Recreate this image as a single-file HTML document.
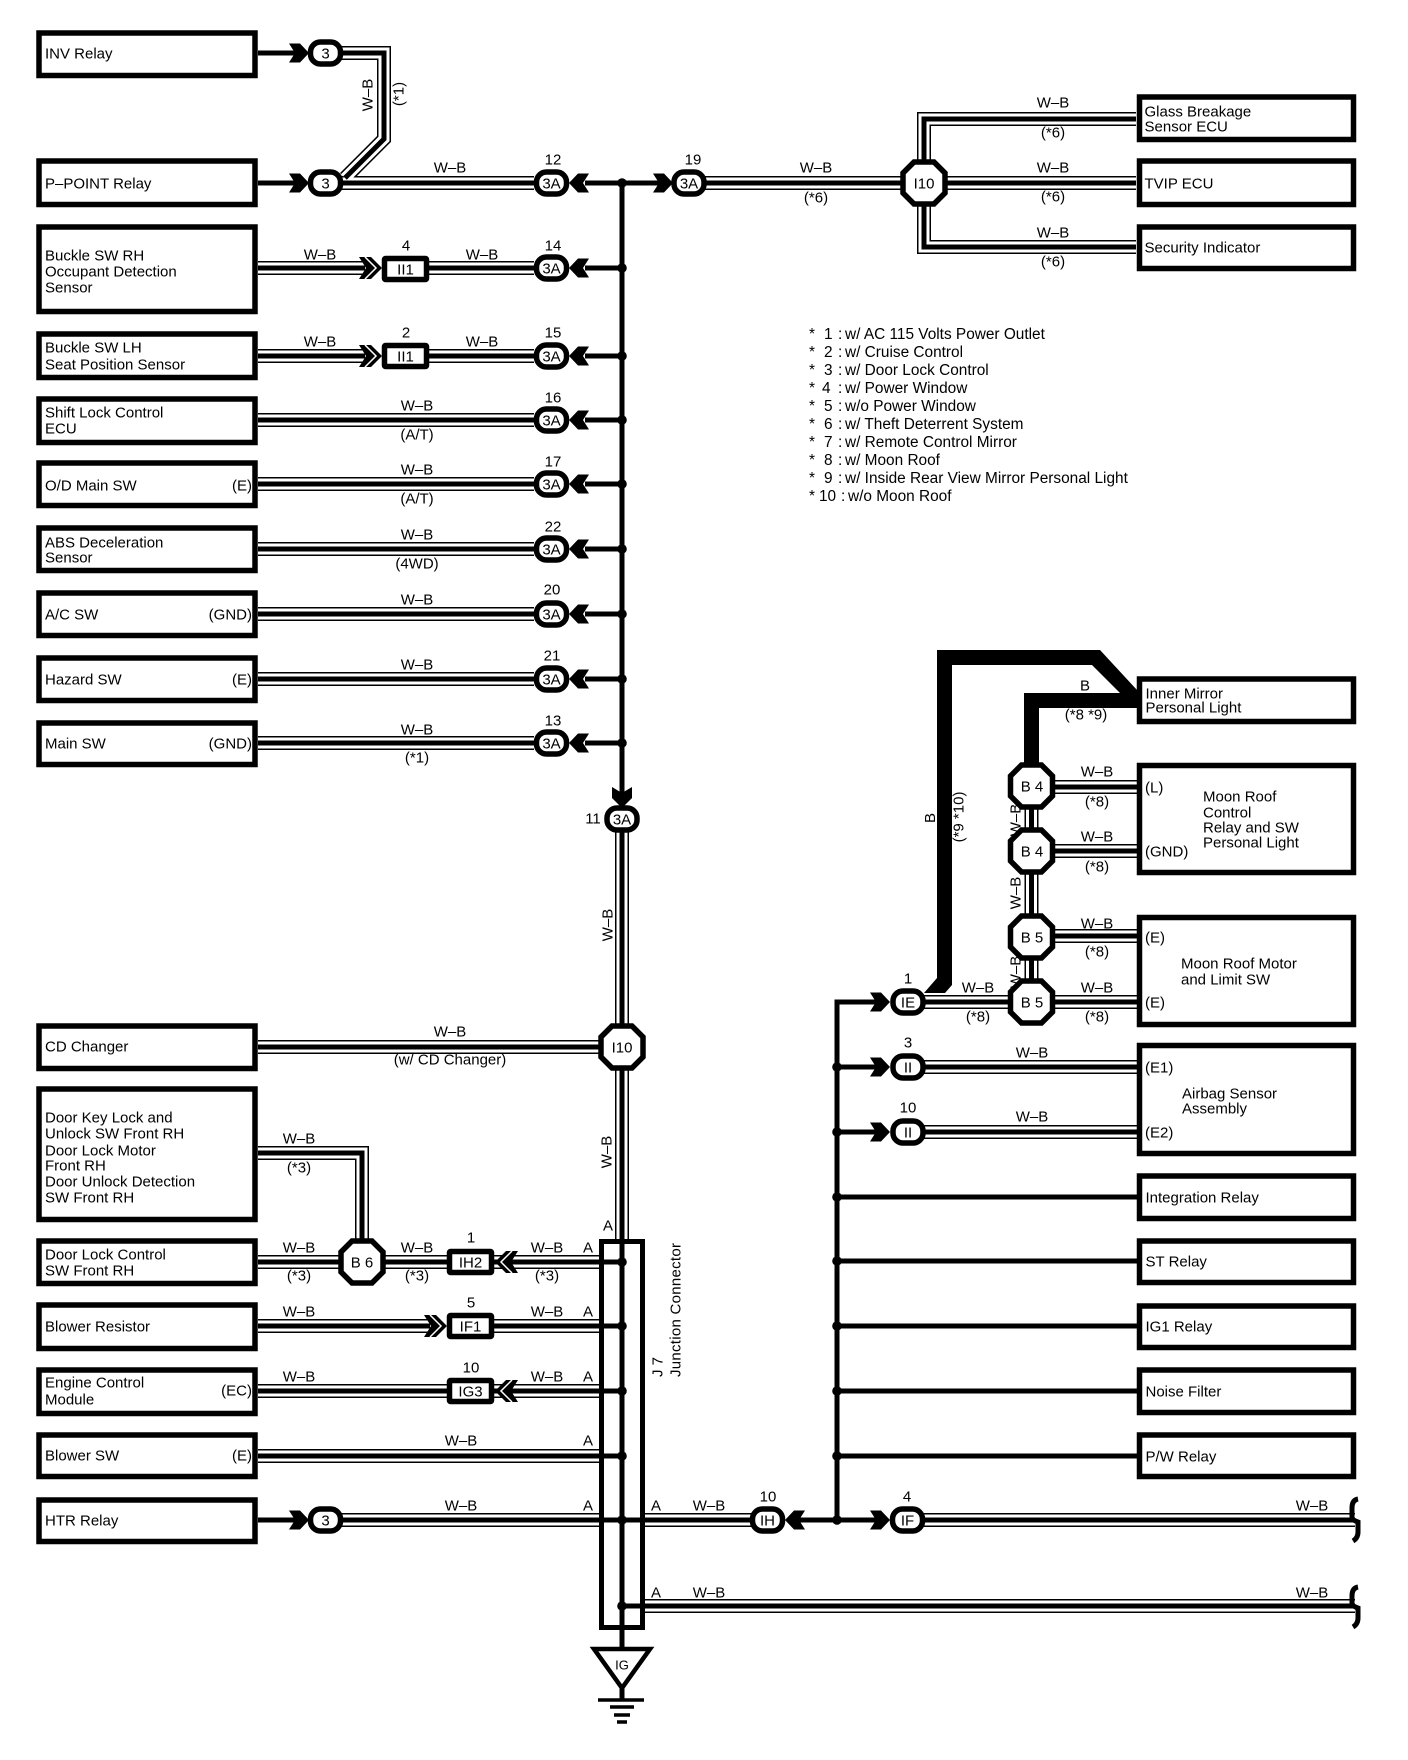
<!DOCTYPE html>
<html><head><meta charset="utf-8"><title>Wiring diagram</title>
<style>
html,body{margin:0;padding:0;background:#fff}
svg{display:block}
text{font-family:"Liberation Sans",sans-serif;font-size:15px;fill:#000;dominant-baseline:central}
.m{text-anchor:middle}.r{text-anchor:end}
.b{fill:#fff;stroke:#000;stroke-width:5.5}
.l{fill:none;stroke:#000;stroke-width:5}
.s{fill:none;stroke:#fff;stroke-width:1.5}
.lg text{font-size:15.4px}
</style></head><body>
<svg width="1408" height="1760" viewBox="0 0 1408 1760" xmlns="http://www.w3.org/2000/svg">
<defs>
<g id="W" fill="none">
<path d="M320 53H384V139L345 178"/>
<path d="M340 183H534M700 183H905M940 183H1136"/>
<path d="M924 165V119H1136M924 200V247H1136"/>
<path d="M258 268H365M425 268H534M258 356H365M425 356H534"/>
<path d="M258 420H534M258 484H534M258 549H534M258 614H534M258 679H534M258 743H534"/>
<path d="M622 828V1239"/>
<path d="M258 1047H605"/>
<path d="M258 1153H362V1242"/>
<path d="M258 1262H345M380 1262H450M490 1262H599"/>
<path d="M258 1326H430M490 1326H599"/>
<path d="M258 1391H450M490 1391H599"/>
<path d="M258 1456H599"/>
<path d="M340 1520H599M645 1520H752M920 1520H1355"/>
<path d="M645 1606H1355"/>
<path d="M1031.5 800V835M1031.5 865V920M1031.5 955V985"/>
<path d="M1050 787H1137M1050 851H1137M1050 936H1137M1050 1002H1137M920 1002H1012"/>
<path d="M920 1067H1137M920 1132H1137"/>
</g>
<polygon id="ar" points="-20,-9.5 -9,-9.5 0,0 -9,9.5 -20,9.5 -14,0" fill="#000"/>
<polygon id="al" points="20,-9.5 9,-9.5 0,0 9,9.5 20,9.5 14,0" fill="#000"/>
<g id="ar2"><polygon points="-23,-11 -11,-11 0,0 -11,11 -23,11 -16,0" fill="#000"/><path class="s" d="M-17-11L-6 0L-17 11"/></g>
<g id="al2"><polygon points="23,-11 11,-11 0,0 11,11 23,11 16,0" fill="#000"/><path class="s" d="M17-11L6 0L17 11"/></g>
<rect id="c" x="-15" y="-11" width="30" height="22" rx="10" class="b"/>
<polygon id="o" points="-10,-21 10,-21 21,-10 21,10 10,21 -10,21 -21,10 -21,-10" class="b"/>
<rect id="n" x="-21" y="-10.5" width="42" height="21" rx="1" class="b"/>
<circle id="d" r="4.8" fill="#000"/>
</defs>

<!-- triple wires -->
<use href="#W" stroke="#000" stroke-width="14"/>
<use href="#W" stroke="#fff" stroke-width="11"/>
<use href="#W" stroke="#000" stroke-width="5"/>

<!-- single wires -->
<path class="l" d="M258 53H295M258 183H295M258 1520H295"/>
<path class="l" d="M585 183H665M622 183V795"/>
<path class="l" d="M585 268H622M585 356H622M585 420H622M585 484H622M585 549H622M585 614H622M585 679H622M585 743H622"/>
<path class="l" d="M622 1239V1650M599 1262H622M599 1326H622M599 1391H622M599 1456H622M599 1520H645M622 1606H645"/>
<path class="l" d="M790 1520H880M837 1520V1002H880"/>
<path class="l" d="M837 1067H880M837 1132H880M837 1197H1137M837 1261H1137M837 1326H1137M837 1391H1137M837 1456H1137"/>

<!-- heavy B wires -->
<polygon fill="#000" points="924,993 937,978 937,650 1100,650 1137,690 1137,695 1122,695 1092,665 952,665 952,985 945,993"/>
<path fill="none" stroke="#000" stroke-width="15" d="M1031.5 770V700.5H1137"/>

<!-- wire ends -->
<path class="l" d="M1358 1499Q1352 1500 1352 1508V1517Q1352 1520 1358 1522V1532Q1358 1538 1353 1541"/>
<path class="l" d="M1358 1587Q1352 1588 1352 1596V1603Q1352 1606 1358 1608V1618Q1358 1624 1353 1627"/>

<!-- junction box and dots -->
<rect x="601.5" y="1241.5" width="41" height="386" fill="none" stroke="#000" stroke-width="5"/>
<use href="#d" x="622" y="183"/><use href="#d" x="622" y="268"/><use href="#d" x="622" y="356"/><use href="#d" x="622" y="420"/><use href="#d" x="622" y="484"/><use href="#d" x="622" y="549"/><use href="#d" x="622" y="614"/><use href="#d" x="622" y="679"/><use href="#d" x="622" y="743"/>
<use href="#d" x="622" y="1262"/><use href="#d" x="622" y="1326"/><use href="#d" x="622" y="1391"/><use href="#d" x="622" y="1456"/><use href="#d" x="622" y="1520"/><use href="#d" x="622" y="1606"/>
<use href="#d" x="837" y="1067"/><use href="#d" x="837" y="1132"/><use href="#d" x="837" y="1197"/><use href="#d" x="837" y="1261"/><use href="#d" x="837" y="1326"/><use href="#d" x="837" y="1391"/><use href="#d" x="837" y="1456"/><use href="#d" x="837" y="1520"/>

<!-- chevrons -->
<use href="#ar" x="309" y="53"/><use href="#ar" x="309" y="183"/><use href="#ar" x="309" y="1520"/>
<use href="#ar" x="673" y="183"/>
<use href="#al" x="569" y="183"/><use href="#al" x="569" y="268"/><use href="#al" x="569" y="356"/><use href="#al" x="569" y="420"/><use href="#al" x="569" y="484"/><use href="#al" x="569" y="549"/><use href="#al" x="569" y="614"/><use href="#al" x="569" y="679"/><use href="#al" x="569" y="743"/>
<polygon fill="#000" points="612,787 622,793 632,787 632,798 622,808 612,798"/>
<use href="#ar2" x="382" y="268"/><use href="#ar2" x="382" y="356"/><use href="#ar2" x="447" y="1326"/>
<use href="#al2" x="495" y="1262"/><use href="#al2" x="495" y="1391"/>
<use href="#al" x="785" y="1520"/><use href="#ar" x="890" y="1520"/>
<use href="#ar" x="890" y="1002"/><use href="#ar" x="890" y="1067"/><use href="#ar" x="890" y="1132"/>

<!-- connectors -->
<use href="#c" x="325.5" y="53"/><use href="#c" x="325.5" y="183"/><use href="#c" x="325.5" y="1520"/>
<use href="#c" x="551.5" y="183"/><use href="#c" x="551.5" y="268"/><use href="#c" x="551.5" y="356"/><use href="#c" x="551.5" y="420"/><use href="#c" x="551.5" y="484"/><use href="#c" x="551.5" y="549"/><use href="#c" x="551.5" y="614"/><use href="#c" x="551.5" y="679"/><use href="#c" x="551.5" y="743"/>
<use href="#c" x="689" y="183"/><use href="#c" x="622" y="819"/>
<use href="#c" x="767.5" y="1520"/><use href="#c" x="907.5" y="1520"/>
<use href="#c" x="908" y="1002"/><use href="#c" x="908" y="1067"/><use href="#c" x="908" y="1132"/>

<use href="#n" x="405.5" y="269"/><use href="#n" x="405.5" y="356"/>
<use href="#n" x="470.5" y="1262"/><use href="#n" x="470.5" y="1326"/><use href="#n" x="470.5" y="1391"/>

<!-- vertical labels partly hidden behind the octagons -->
<text transform="translate(1016 820) rotate(-90)" text-anchor="middle">W–B</text>
<text transform="translate(1016 972) rotate(-90)" text-anchor="middle">W–B</text>

<use href="#o" x="924" y="183"/><use href="#o" x="622" y="1047"/><use href="#o" x="362" y="1262"/>
<use href="#o" x="1031.5" y="786"/><use href="#o" x="1031.5" y="851"/><use href="#o" x="1031.5" y="937"/><use href="#o" x="1031.5" y="1002"/>

<!-- ground -->
<polygon points="594,1649 650,1649 622,1688" fill="#fff" stroke="#000" stroke-width="4.5"/>
<path class="l" d="M622 1686V1700"/>
<path fill="none" stroke="#000" stroke-width="3.5" d="M598 1700H644M610 1707H634M614 1715H630M617 1722H627"/>

<!-- boxes -->
<g class="boxes">
<rect class="b" x="39" y="33" width="216" height="42.5"/>
<rect class="b" x="39" y="161" width="216" height="43.5"/>
<rect class="b" x="39" y="227" width="216" height="84.5"/>
<rect class="b" x="39" y="334" width="216" height="43.5"/>
<rect class="b" x="39" y="399" width="216" height="43.5"/>
<rect class="b" x="39" y="463" width="216" height="42.5"/>
<rect class="b" x="39" y="528" width="216" height="42.5"/>
<rect class="b" x="39" y="593" width="216" height="42.5"/>
<rect class="b" x="39" y="658" width="216" height="42.5"/>
<rect class="b" x="39" y="723" width="216" height="41.5"/>
<rect class="b" x="39" y="1026" width="216" height="42.5"/>
<rect class="b" x="39" y="1089" width="216" height="130.5"/>
<rect class="b" x="39" y="1241" width="216" height="42.5"/>
<rect class="b" x="39" y="1305" width="216" height="43.5"/>
<rect class="b" x="39" y="1370" width="216" height="43.5"/>
<rect class="b" x="39" y="1435" width="216" height="41.5"/>
<rect class="b" x="39" y="1500" width="216" height="41.5"/>
<rect class="b" x="1139.5" y="97" width="214" height="42.5"/>
<rect class="b" x="1139.5" y="161" width="214" height="43.5"/>
<rect class="b" x="1139.5" y="227" width="214" height="41.5"/>
<rect class="b" x="1139.5" y="679" width="214" height="42.5"/>
<rect class="b" x="1139.5" y="765.5" width="214" height="107"/>
<rect class="b" x="1139.5" y="917.5" width="214" height="107"/>
<rect class="b" x="1139.5" y="1045.5" width="214" height="108"/>
<rect class="b" x="1139.5" y="1176" width="214" height="42.5"/>
<rect class="b" x="1139.5" y="1241" width="214" height="41.5"/>
<rect class="b" x="1139.5" y="1306" width="214" height="41.5"/>
<rect class="b" x="1139.5" y="1370" width="214" height="42.5"/>
<rect class="b" x="1139.5" y="1435" width="214" height="41.5"/>
</g>

<!-- box labels -->
<text x="45" y="54">INV Relay</text>
<text x="45" y="184">P–POINT Relay</text>
<text x="45" y="256">Buckle SW RH</text><text x="45" y="272">Occupant Detection</text><text x="45" y="288">Sensor</text>
<text x="45" y="348">Buckle SW LH</text><text x="45" y="365">Seat Position Sensor</text>
<text x="45" y="413">Shift Lock Control</text><text x="45" y="429">ECU</text>
<text x="45" y="486">O/D Main SW</text><text class="r" x="252" y="486">(E)</text>
<text x="45" y="543">ABS Deceleration</text><text x="45" y="558">Sensor</text>
<text x="45" y="615">A/C SW</text><text class="r" x="252" y="615">(GND)</text>
<text x="45" y="680">Hazard SW</text><text class="r" x="252" y="680">(E)</text>
<text x="45" y="744">Main SW</text><text class="r" x="252" y="744">(GND)</text>
<text x="45" y="1047">CD Changer</text>
<text x="45" y="1118">Door Key Lock and</text><text x="45" y="1134">Unlock SW Front RH</text><text x="45" y="1151">Door Lock Motor</text><text x="45" y="1166">Front RH</text><text x="45" y="1182">Door Unlock Detection</text><text x="45" y="1198">SW Front RH</text>
<text x="45" y="1255">Door Lock Control</text><text x="45" y="1271">SW Front RH</text>
<text x="45" y="1327">Blower Resistor</text>
<text x="45" y="1383">Engine Control</text><text x="45" y="1400">Module</text><text class="r" x="252" y="1391">(EC)</text>
<text x="45" y="1456">Blower SW</text><text class="r" x="252" y="1456">(E)</text>
<text x="45" y="1521">HTR Relay</text>

<text x="1144.5" y="112">Glass Breakage</text><text x="1144.5" y="127">Sensor ECU</text>
<text x="1144.5" y="184">TVIP ECU</text>
<text x="1144.5" y="248">Security Indicator</text>
<text x="1145.5" y="694">Inner Mirror</text><text x="1145.5" y="708">Personal Light</text>
<text x="1145" y="788">(L)</text><text x="1145" y="852">(GND)</text>
<text x="1203" y="797">Moon Roof</text><text x="1203" y="813">Control</text><text x="1203" y="828">Relay and SW</text><text x="1203" y="843">Personal Light</text>
<text x="1145" y="938">(E)</text><text x="1145" y="1003">(E)</text>
<text x="1181" y="964">Moon Roof Motor</text><text x="1181" y="980">and Limit SW</text>
<text x="1145" y="1068">(E1)</text><text x="1145" y="1133">(E2)</text>
<text x="1182" y="1094">Airbag Sensor</text><text x="1182" y="1109">Assembly</text>
<text x="1145.5" y="1198">Integration Relay</text>
<text x="1145.5" y="1262">ST Relay</text>
<text x="1145.5" y="1327">IG1 Relay</text>
<text x="1145.5" y="1392">Noise Filter</text>
<text x="1145.5" y="1457">P/W Relay</text>

<!-- connector labels -->
<g class="m" text-anchor="middle">
<text x="325.5" y="54" text-anchor="middle">3</text><text x="325.5" y="184" text-anchor="middle">3</text><text x="325.5" y="1521" text-anchor="middle">3</text>
<text x="551.5" y="184" text-anchor="middle">3A</text><text x="551.5" y="269" text-anchor="middle">3A</text><text x="551.5" y="357" text-anchor="middle">3A</text><text x="551.5" y="421" text-anchor="middle">3A</text><text x="551.5" y="485" text-anchor="middle">3A</text><text x="551.5" y="550" text-anchor="middle">3A</text><text x="551.5" y="615" text-anchor="middle">3A</text><text x="551.5" y="680" text-anchor="middle">3A</text><text x="551.5" y="744" text-anchor="middle">3A</text>
<text x="689" y="184" text-anchor="middle">3A</text><text x="622" y="820" text-anchor="middle">3A</text>
<text x="767.5" y="1521" text-anchor="middle">IH</text><text x="907.5" y="1521" text-anchor="middle">IF</text>
<text x="908" y="1003" text-anchor="middle">IE</text><text x="908" y="1068" text-anchor="middle">II</text><text x="908" y="1133" text-anchor="middle">II</text>
<text x="405.5" y="270" text-anchor="middle">II1</text><text x="405.5" y="357" text-anchor="middle">II1</text>
<text x="470.5" y="1263" text-anchor="middle">IH2</text><text x="470.5" y="1327" text-anchor="middle">IF1</text><text x="470.5" y="1392" text-anchor="middle">IG3</text>
<text x="924" y="184" text-anchor="middle">I10</text><text x="622" y="1048" text-anchor="middle">I10</text><text x="362" y="1263" text-anchor="middle">B 6</text>
<text x="1032" y="787" text-anchor="middle">B 4</text><text x="1032" y="852" text-anchor="middle">B 4</text><text x="1032" y="938" text-anchor="middle">B 5</text><text x="1032" y="1003" text-anchor="middle">B 5</text>
<text x="622" y="1665" text-anchor="middle" style="font-size:13px">IG</text>

<!-- numbers -->
<text x="553" y="160" text-anchor="middle">12</text><text x="693" y="160" text-anchor="middle">19</text>
<text x="553" y="246" text-anchor="middle">14</text><text x="553" y="333" text-anchor="middle">15</text><text x="553" y="398" text-anchor="middle">16</text>
<text x="553" y="462" text-anchor="middle">17</text><text x="553" y="527" text-anchor="middle">22</text><text x="552" y="590" text-anchor="middle">20</text><text x="552" y="656" text-anchor="middle">21</text><text x="553" y="721" text-anchor="middle">13</text>
<text x="593" y="819" text-anchor="middle">11</text>
<text x="406" y="246" text-anchor="middle">4</text><text x="406" y="333" text-anchor="middle">2</text>
<text x="471" y="1238" text-anchor="middle">1</text><text x="471" y="1303" text-anchor="middle">5</text><text x="471" y="1368" text-anchor="middle">10</text>
<text x="768" y="1497" text-anchor="middle">10</text><text x="907" y="1497" text-anchor="middle">4</text>
<text x="908" y="979" text-anchor="middle">1</text><text x="908" y="1043" text-anchor="middle">3</text><text x="908" y="1108" text-anchor="middle">10</text>

<!-- wire labels -->
<text x="450" y="168" text-anchor="middle">W–B</text>
<text x="816" y="168" text-anchor="middle">W–B</text><text x="816" y="198" text-anchor="middle">(*6)</text>
<text x="1053" y="103" text-anchor="middle">W–B</text><text x="1053" y="133" text-anchor="middle">(*6)</text>
<text x="1053" y="168" text-anchor="middle">W–B</text><text x="1053" y="197" text-anchor="middle">(*6)</text>
<text x="1053" y="233" text-anchor="middle">W–B</text><text x="1053" y="262" text-anchor="middle">(*6)</text>
<text x="320" y="255" text-anchor="middle">W–B</text><text x="482" y="255" text-anchor="middle">W–B</text>
<text x="320" y="342" text-anchor="middle">W–B</text><text x="482" y="342" text-anchor="middle">W–B</text>
<text x="417" y="406" text-anchor="middle">W–B</text><text x="417" y="435" text-anchor="middle">(A/T)</text>
<text x="417" y="470" text-anchor="middle">W–B</text><text x="417" y="499" text-anchor="middle">(A/T)</text>
<text x="417" y="535" text-anchor="middle">W–B</text><text x="417" y="564" text-anchor="middle">(4WD)</text>
<text x="417" y="600" text-anchor="middle">W–B</text>
<text x="417" y="665" text-anchor="middle">W–B</text>
<text x="417" y="730" text-anchor="middle">W–B</text><text x="417" y="758" text-anchor="middle">(*1)</text>
<text x="450" y="1032" text-anchor="middle">W–B</text><text x="450" y="1060" text-anchor="middle">(w/ CD Changer)</text>
<text x="299" y="1139" text-anchor="middle">W–B</text><text x="299" y="1168" text-anchor="middle">(*3)</text>
<text x="299" y="1248" text-anchor="middle">W–B</text><text x="299" y="1276" text-anchor="middle">(*3)</text>
<text x="417" y="1248" text-anchor="middle">W–B</text><text x="417" y="1276" text-anchor="middle">(*3)</text>
<text x="547" y="1248" text-anchor="middle">W–B</text><text x="547" y="1276" text-anchor="middle">(*3)</text><text x="588" y="1248" text-anchor="middle">A</text>
<text x="299" y="1312" text-anchor="middle">W–B</text><text x="547" y="1312" text-anchor="middle">W–B</text><text x="588" y="1312" text-anchor="middle">A</text>
<text x="299" y="1377" text-anchor="middle">W–B</text><text x="547" y="1377" text-anchor="middle">W–B</text><text x="588" y="1377" text-anchor="middle">A</text>
<text x="461" y="1441" text-anchor="middle">W–B</text><text x="588" y="1441" text-anchor="middle">A</text>
<text x="461" y="1506" text-anchor="middle">W–B</text><text x="588" y="1506" text-anchor="middle">A</text>
<text x="656" y="1506" text-anchor="middle">A</text><text x="709" y="1506" text-anchor="middle">W–B</text><text x="1312" y="1506" text-anchor="middle">W–B</text>
<text x="656" y="1593" text-anchor="middle">A</text><text x="709" y="1593" text-anchor="middle">W–B</text><text x="1312" y="1593" text-anchor="middle">W–B</text>
<text x="608" y="1226" text-anchor="middle">A</text>
<text x="1085" y="686" text-anchor="middle">B</text><text x="1086" y="715" text-anchor="middle">(*8 *9)</text>
<text x="1097" y="772" text-anchor="middle">W–B</text><text x="1097" y="802" text-anchor="middle">(*8)</text>
<text x="1097" y="837" text-anchor="middle">W–B</text><text x="1097" y="867" text-anchor="middle">(*8)</text>
<text x="1097" y="924" text-anchor="middle">W–B</text><text x="1097" y="952" text-anchor="middle">(*8)</text>
<text x="1097" y="988" text-anchor="middle">W–B</text><text x="1097" y="1017" text-anchor="middle">(*8)</text>
<text x="978" y="988" text-anchor="middle">W–B</text><text x="978" y="1017" text-anchor="middle">(*8)</text>
<text x="1032" y="1053" text-anchor="middle">W–B</text><text x="1032" y="1117" text-anchor="middle">W–B</text>

<!-- rotated labels -->
<text transform="translate(368 95) rotate(-90)" text-anchor="middle">W–B</text>
<text transform="translate(399 94) rotate(-90)" text-anchor="middle">(*1)</text>
<text transform="translate(608 925) rotate(-90)" text-anchor="middle">W–B</text>
<text transform="translate(607 1152) rotate(-90)" text-anchor="middle">W–B</text>
<text transform="translate(930.5 818) rotate(-90)" text-anchor="middle">B</text>
<text transform="translate(959 817) rotate(-90)" text-anchor="middle">(*9 *10)</text>
<text transform="translate(1016 893) rotate(-90)" text-anchor="middle">W–B</text>
<text transform="translate(658 1377) rotate(-90)" text-anchor="start">J 7</text>
<text transform="translate(676 1377) rotate(-90)" text-anchor="start" textLength="134" lengthAdjust="spacing">Junction Connector</text>
</g>

<!-- legend -->
<g class="lg">
<text y="334"><tspan x="809">*</tspan><tspan x="824">1</tspan><tspan x="838">:</tspan><tspan x="845">w/ AC 115 Volts Power Outlet</tspan></text>
<text y="352"><tspan x="809">*</tspan><tspan x="824">2</tspan><tspan x="838">:</tspan><tspan x="845">w/ Cruise Control</tspan></text>
<text y="370"><tspan x="809">*</tspan><tspan x="824">3</tspan><tspan x="838">:</tspan><tspan x="845">w/ Door Lock Control</tspan></text>
<text y="388"><tspan x="809">*</tspan><tspan x="822">4</tspan><tspan x="838">:</tspan><tspan x="845">w/ Power Window</tspan></text>
<text y="406"><tspan x="809">*</tspan><tspan x="824">5</tspan><tspan x="838">:</tspan><tspan x="845">w/o Power Window</tspan></text>
<text y="424"><tspan x="809">*</tspan><tspan x="824">6</tspan><tspan x="838">:</tspan><tspan x="845">w/ Theft Deterrent System</tspan></text>
<text y="442"><tspan x="809">*</tspan><tspan x="824">7</tspan><tspan x="838">:</tspan><tspan x="845">w/ Remote Control Mirror</tspan></text>
<text y="460"><tspan x="809">*</tspan><tspan x="824">8</tspan><tspan x="838">:</tspan><tspan x="845">w/ Moon Roof</tspan></text>
<text y="478"><tspan x="809">*</tspan><tspan x="824">9</tspan><tspan x="838">:</tspan><tspan x="845">w/ Inside Rear View Mirror Personal Light</tspan></text>
<text y="496"><tspan x="809">*</tspan><tspan x="819">10</tspan><tspan x="841">:</tspan><tspan x="848">w/o Moon Roof</tspan></text>
</g>
</svg>
</body></html>
